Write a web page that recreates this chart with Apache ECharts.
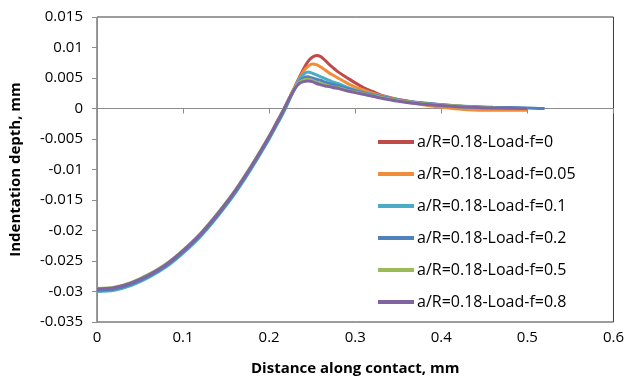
<!DOCTYPE html>
<html><head><meta charset="utf-8">
<script src="https://cdn.jsdelivr.net/npm/echarts@6/dist/echarts.min.js"></script>
<style>html,body{margin:0;padding:0;background:#fff}#c{width:627px;height:381px}</style>
</head><body><div id="c"></div>
<script>
const seriesNames = ['a/R=0.18-Load-f=0','a/R=0.18-Load-f=0.05','a/R=0.18-Load-f=0.1','a/R=0.18-Load-f=0.2','a/R=0.18-Load-f=0.5','a/R=0.18-Load-f=0.8'];
const colors = ['#BE4B48','#F08C3A','#4BACC6','#4F81BD','#9BBB59','#8064A2'];
const xTicks = ['0','0.1','0.2','0.3','0.4','0.5','0.6'];

// rising part (distance, mm)
const riseX = [0, 0.02, 0.04, 0.06, 0.08, 0.10, 0.12, 0.14, 0.16, 0.18, 0.20, 0.21];
const rise0 = [-0.0297,-0.0295,-0.0287,-0.0274,-0.0257,-0.0234,-0.0207,-0.0174,-0.0137,-0.0094,-0.0047,-0.0021];
const rise1 = [-0.0297,-0.0295,-0.0287,-0.0274,-0.0257,-0.0234,-0.0207,-0.0174,-0.0137,-0.0094,-0.0047,-0.0021];
const rise2 = [-0.0300,-0.0298,-0.0290,-0.0277,-0.0260,-0.0237,-0.0210,-0.0177,-0.0140,-0.0097,-0.0050,-0.0024];
const rise3 = [-0.0298,-0.0296,-0.0288,-0.0275,-0.0258,-0.0235,-0.0208,-0.0175,-0.0138,-0.0095,-0.0048,-0.0022];
const rise4 = [-0.0295,-0.0293,-0.0285,-0.0272,-0.0255,-0.0232,-0.0205,-0.0172,-0.0135,-0.0092,-0.0045,-0.0019];
const rise5 = [-0.0296,-0.0294,-0.0286,-0.0273,-0.0256,-0.0233,-0.0206,-0.0173,-0.0136,-0.0093,-0.0046,-0.0020];

// peak region
const nearX = [0.215,0.22,0.225,0.23,0.235,0.24,0.245,0.25,0.255,0.26,0.265,0.27,0.275,0.28];
const near0 = [-0.0008,0.0006,0.0021,0.0036,0.0051,0.0065,0.0077,0.0084,0.0087,0.0085,0.0079,0.0072,0.0066,0.0060];
const near1 = [-0.0008,0.0006,0.0021,0.0035,0.0049,0.0061,0.0069,0.0073,0.0072,0.0068,0.0063,0.0058,0.0054,0.0050];
const near2 = [-0.0011,0.0003,0.0019,0.0034,0.0047,0.0056,0.0060,0.0058,0.0055,0.0052,0.0049,0.0046,0.0043,0.0041];
const near3 = [-0.0009,0.0005,0.0020,0.0033,0.0044,0.0050,0.0052,0.0050,0.0048,0.0046,0.0043,0.0041,0.0039,0.0037];
const near4 = [-0.0006,0.0008,0.0022,0.0035,0.0043,0.0047,0.0048,0.0046,0.0043,0.0041,0.0039,0.0037,0.0035,0.0034];
const near5 = [-0.0007,0.0007,0.0021,0.0033,0.0041,0.0044,0.0045,0.0044,0.0041,0.0039,0.0037,0.0036,0.0034,0.0033];

// tails
const tailX0 = [0.29,0.30,0.31,0.32,0.33,0.34,0.35,0.37,0.40,0.43,0.46,0.50];
const tail0  = [0.0051,0.0042,0.0034,0.0028,0.0022,0.0018,0.0015,0.0010,0.0006,0.0003,0.0001,-0.0001];
const tailX1 = [0.29,0.30,0.31,0.32,0.33,0.35,0.37,0.40,0.43,0.46,0.50];
const tail1  = [0.0042,0.0035,0.0030,0.0025,0.0021,0.0014,0.0008,0.0002,-0.0002,-0.0003,-0.0003];
const tailX2 = [0.29,0.30,0.32,0.35,0.38,0.42,0.46,0.50];
const tail2  = [0.0035,0.0030,0.0023,0.0014,0.0008,0.0003,0.0001,0.0000];
const tailX3 = [0.29,0.30,0.32,0.35,0.38,0.42,0.46,0.50,0.52];
const tail3  = [0.0033,0.0029,0.0022,0.0014,0.0009,0.0004,0.0002,0.0001,0.0000];
const tailX4 = [0.29,0.30,0.32,0.35,0.38,0.42,0.46,0.50];
const tail4  = [0.0030,0.0027,0.0021,0.0013,0.0008,0.0004,0.0001,0.0000];
const tailX5 = [0.29,0.30,0.32,0.35,0.38,0.42,0.46,0.50];
const tail5  = [0.0029,0.0026,0.0020,0.0012,0.0007,0.0003,0.0001,0.0000];

const rises = [rise0,rise1,rise2,rise3,rise4,rise5];
const nears = [near0,near1,near2,near3,near4,near5];
const tailXs = [tailX0,tailX1,tailX2,tailX3,tailX4,tailX5];
const tails = [tail0,tail1,tail2,tail3,tail4,tail5];

const FONT = 'Open Sans';
const chart = echarts.init(document.getElementById('c'), null, {renderer:'canvas'});
const fmtY = v => String(parseFloat(v.toFixed(4)));

const series = seriesNames.map((n,i) => {
  const pts = riseX.map((x,j)=>[x, rises[i][j]])
    .concat(nearX.map((x,j)=>[x, nears[i][j]]))
    .concat(tailXs[i].map((x,j)=>[x, tails[i][j]]));
  return {name:n, type:'line', data:pts, xAxisIndex:0, showSymbol:false, symbol:'none',
    smooth:0.3,
    lineStyle:{width:3, color:colors[i]}, itemStyle:{color:colors[i]}, animation:false};
});

chart.setOption({
  animation:false,
  grid:{left:96, right:12, top:17, bottom:53, show:true, borderColor:'#3a3a3a', borderWidth:1, backgroundColor:'transparent'},
  legend:{orient:'vertical', left:373, top:129, icon:'rect', itemWidth:36, itemHeight:4, itemGap:16,
    data:seriesNames, textStyle:{fontFamily:FONT, fontSize:16, color:'#000', padding:[0,0,0,-2]}},
  xAxis:[
    {type:'value', min:0, max:0.6, interval:0.1, position:'bottom',
     axisLine:{show:false, onZero:false}, axisTick:{show:false}, splitLine:{show:false},
     axisLabel:{fontFamily:FONT, fontSize:15, color:'#000', margin:8, formatter:v=>xTicks[Math.round(v*10)]},
     name:'Distance along contact, mm', nameLocation:'middle', nameGap:39,
     nameTextStyle:{fontFamily:FONT, fontSize:15, fontWeight:'bold', color:'#000'}},
    {type:'value', min:0, max:0.6, interval:0.1, position:'bottom',
     axisLine:{show:true, onZero:true, lineStyle:{color:'#8c8c8c', width:1}},
     axisTick:{show:true, inside:false, length:5, lineStyle:{color:'#8c8c8c'}},
     axisLabel:{show:false}, splitLine:{show:false}}
  ],
  yAxis:{type:'value', min:-0.035, max:0.015, interval:0.005,
    axisLine:{show:true, onZero:false, lineStyle:{color:'#8c8c8c', width:1}},
    axisTick:{show:true, inside:false, length:5, lineStyle:{color:'#8c8c8c'}},
    splitLine:{show:false},
    axisLabel:{fontFamily:FONT, fontSize:15, color:'#000', margin:14, formatter:fmtY},
    name:'Indentation depth, mm', nameLocation:'middle', nameGap:74, nameRotate:90,
    nameTextStyle:{fontFamily:FONT, fontSize:15, fontWeight:'bold', color:'#000'}},
  series: series
});
</script></body></html>
